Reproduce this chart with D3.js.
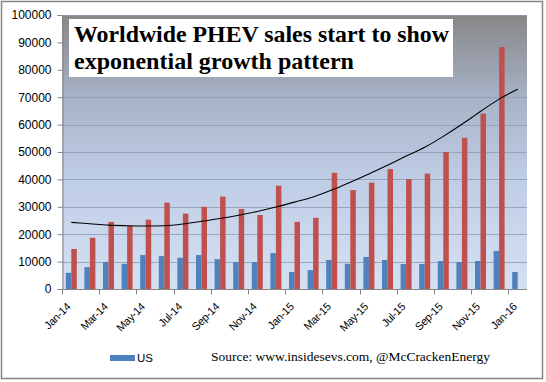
<!DOCTYPE html>
<html><head><meta charset="utf-8">
<script src="https://cdn.jsdelivr.net/npm/d3@7"></script>
<style>html,body{margin:0;padding:0;background:#fff;}svg{display:block;}</style>
</head><body>
<script>
const months = ["Jan-14","Feb-14","Mar-14","Apr-14","May-14","Jun-14","Jul-14","Aug-14","Sep-14","Oct-14","Nov-14","Dec-14",
  "Jan-15","Feb-15","Mar-15","Apr-15","May-15","Jun-15","Jul-15","Aug-15","Sep-15","Oct-15","Nov-15","Dec-15","Jan-16"];
const usSales = [5900,8000,9900,9200,12400,12000,11400,12400,10900,9850,9850,13100,
  6200,6900,10600,9200,11700,10600,9100,9100,10200,9850,10200,13900,6200];
const worldSales = [14600,18700,24500,23100,25300,31500,27500,30000,33700,29200,27000,37700,
  24500,26000,42400,36100,38800,43800,40100,42100,50000,55200,64000,88300,null];
const trendValues = [24300,23800,23300,23100,23000,23100,23700,24700,25700,26900,28300,29900,
  31700,33600,36100,39000,42000,45200,48500,51700,55700,60100,64800,69300,72900];
const yTicks = [0,10000,20000,30000,40000,50000,60000,70000,80000,90000,100000];
const xLabelMonths = months.filter((d,i)=>i%2===0);
const titleLines = ["Worldwide PHEV sales start to show","exponential growth pattern"];
const legendLabel = "US";
const sourceText = "Source: www.insidesevs.com, @McCrackenEnergy";

const W=546,H=382;
const svg=d3.select("body").append("svg").attr("width",W).attr("height",H);
const plot={l:62,r:527,t:15,b:289};
const x=d3.scaleBand().domain(months).range([plot.l,plot.r]).padding(0);
const y=d3.scaleLinear().domain([0,100000]).range([plot.b,plot.t]);

// outer border
svg.append("rect").attr("x",1.5).attr("y",1.5).attr("width",541).attr("height",377)
  .attr("fill","#fff").attr("stroke","#868686").attr("stroke-width",1.5);

const defs=svg.append("defs");
const g=defs.append("linearGradient").attr("id","bg").attr("x1",0).attr("y1",0).attr("x2",0).attr("y2",1);
g.append("stop").attr("offset","0%").attr("stop-color","#878787");
g.append("stop").attr("offset","30%").attr("stop-color","#a7b2c6");
g.append("stop").attr("offset","60%").attr("stop-color","#bfcde6");
g.append("stop").attr("offset","100%").attr("stop-color","#d5e0f2");
svg.append("rect").attr("x",plot.l).attr("y",plot.t).attr("width",plot.r-plot.l).attr("height",plot.b-plot.t)
  .attr("fill","url(#bg)");

// gridlines
svg.append("g").selectAll("line").data(yTicks.slice(1)).join("line")
  .attr("x1",plot.l).attr("x2",plot.r).attr("y1",d=>Math.round(y(d))+0.5).attr("y2",d=>Math.round(y(d))+0.5)
  .attr("stroke","#8e9bb0").attr("stroke-width",1).attr("opacity",0.8);

// bars
const bw=5.5;
svg.append("g").selectAll("rect").data(months).join("rect")
  .attr("x",d=>x(d)+x.bandwidth()/2-bw).attr("width",bw)
  .attr("y",(d,i)=>y(usSales[i])).attr("height",(d,i)=>plot.b-y(usSales[i]))
  .attr("fill","#4f81bd");
svg.append("g").selectAll("rect").data(months.filter((d,i)=>worldSales[i]!=null)).join("rect")
  .attr("x",d=>x(d)+x.bandwidth()/2).attr("width",bw)
  .attr("y",(d,i)=>y(worldSales[i])).attr("height",(d,i)=>plot.b-y(worldSales[i]))
  .attr("fill","#c0504d");

// trend line
const line=d3.line().x((d,i)=>x(months[i])+x.bandwidth()/2).y(d=>y(d)).curve(d3.curveMonotoneX);
svg.append("path").attr("d",line(trendValues)).attr("fill","none").attr("stroke","#000").attr("stroke-width",1.1);

// y axis
const yAxis=d3.axisLeft(y).tickValues(yTicks).tickSize(5).tickFormat(d3.format("d"));
const ya=svg.append("g").attr("transform",`translate(${plot.l+0.5},0)`).call(yAxis);
ya.select(".domain").attr("stroke","#868686");
ya.selectAll(".tick line").attr("stroke","#868686");
ya.selectAll("text").attr("font-family","Liberation Sans, Arial, sans-serif").attr("font-size",12).attr("fill","#000").attr("x",-11);

// x axis
const xt=d3.scaleLinear().domain([0,months.length]).range([plot.l,plot.r]);
const xa=svg.append("g").attr("transform",`translate(0,${plot.b+0.5})`);
xa.append("line").attr("x1",plot.l).attr("x2",plot.r).attr("stroke","#868686");
xa.selectAll("line.tk").data(d3.range(0,months.length+1,2)).join("line").attr("class","tk")
  .attr("x1",d=>Math.round(xt(d))+0.5).attr("x2",d=>Math.round(xt(d))+0.5).attr("y1",0).attr("y2",5).attr("stroke","#868686");
xa.selectAll("text").data(xLabelMonths).join("text")
  .attr("transform",d=>`translate(${x(d)+x.bandwidth()/2},${18}) rotate(-45)`)
  .attr("text-anchor","end").attr("font-family","Liberation Sans, Arial, sans-serif").attr("font-size",11)
  .attr("letter-spacing",-0.3).attr("fill","#000")
  .text(d=>d);

// title box
svg.append("rect").attr("x",69).attr("y",19).attr("width",384).attr("height",58).attr("fill","#fff");
svg.append("g").selectAll("text").data(titleLines).join("text")
  .attr("x",74).attr("y",(d,i)=>42+i*27)
  .attr("font-family","Liberation Serif, Times New Roman, serif").attr("font-weight","bold").attr("font-size",23.5)
  .attr("fill","#000")
  .attr("textLength",(d,i)=>i===0?375:280).attr("lengthAdjust","spacingAndGlyphs")
  .text(d=>d);

// legend
svg.append("rect").attr("x",110).attr("y",355).attr("width",25).attr("height",6).attr("fill","#4f81bd");
svg.append("text").attr("x",137).attr("y",362).attr("font-family","Liberation Sans, Arial, sans-serif").attr("font-size",11.5).text(legendLabel);
svg.append("text").attr("x",211).attr("y",361).attr("font-family","Liberation Serif, Times New Roman, serif").attr("font-size",13.5)
  .attr("textLength",279).attr("lengthAdjust","spacingAndGlyphs").text(sourceText);
</script>
</body></html>
